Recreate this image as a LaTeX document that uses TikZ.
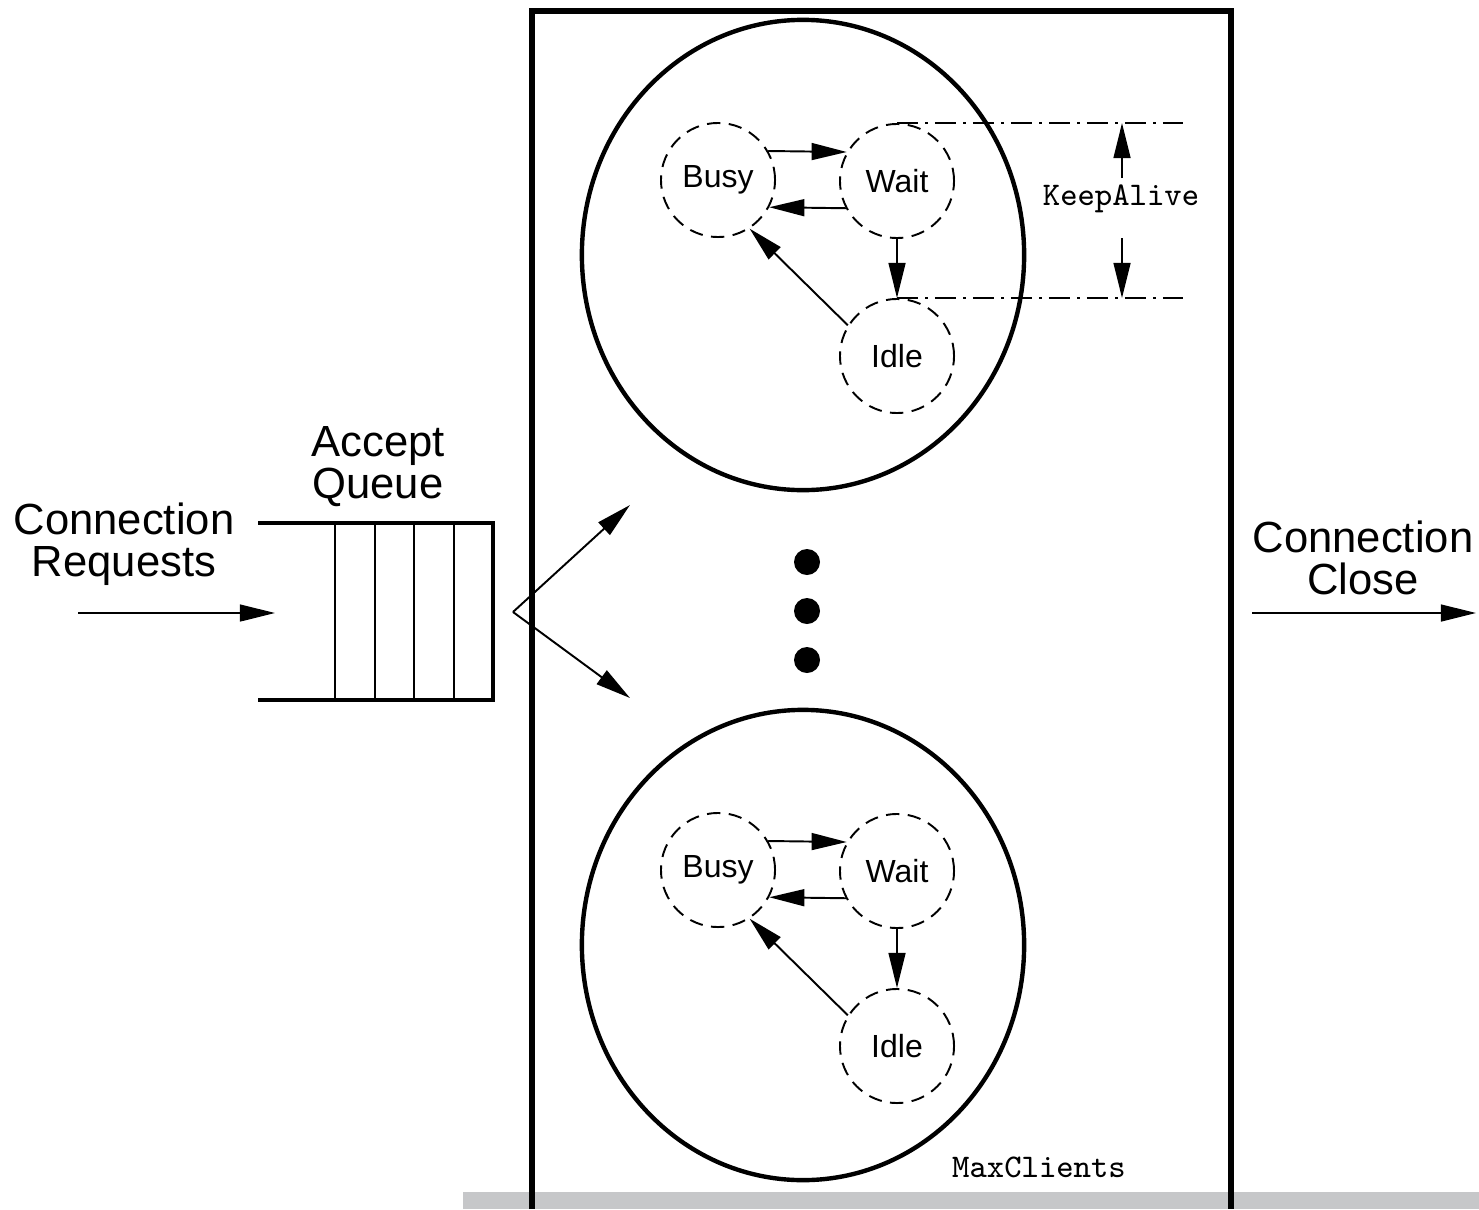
\documentclass[tikz,border=0pt]{standalone}
\usepackage{fontspec}
\setmainfont{Liberation Sans}
\usetikzlibrary{arrows.meta}

\begin{document}
\begin{tikzpicture}
  [x=0.01cm, y=-0.01cm,
   state/.style={circle, draw, dashed, dash pattern=on 3.8pt off 2.4pt,
                 line width=0.55pt, minimum size=1.14cm, inner sep=0,
                 font=\fontsize{9.1}{11}\selectfont},
   arr/.style={-{Triangle[length=10pt,width=4.8pt]}, line width=0.55pt},
   heavy/.style={line width=1.25pt},
   biglabel/.style={align=center, inner sep=0, font=\fontsize{12.4}{12}\selectfont},
   dimline/.style={line width=0.55pt, dash pattern=on 6pt off 2pt on 0.8pt off 2pt},
   dot/.style={circle, fill, minimum size=0.26cm, inner sep=0}]

  \useasboundingbox (0,0) rectangle (1479,1209);

  % strip along the bottom edge
  \fill[fill={rgb,255:red,198;green,199;blue,201}] (463,1192) rectangle (1479,1209);

  % server box
  \draw[line width=1.6pt] (532,1209) -- (532,11) -- (1231,11) -- (1231,1209);
  \node[font=\ttfamily\fontsize{9.4}{11}\selectfont] (maxcl) at (1039,1167) {MaxClients};

  % accept queue
  \draw[line width=1.05pt] (258,523) -- (493,523) -- (493,700) -- (258,700);
  \foreach \qx in {335,375,414,454}
    \draw[line width=0.55pt] (\qx,523) -- (\qx,700);
  \node[biglabel] (queue) at (378,467) {Accept\\Queue};

  % incoming and outgoing connections
  \node[biglabel] (req) at (124,544) {Connection\\Requests};
  \coordinate (reqa) at (78,613);
  \coordinate (reqb) at (275,613);
  \draw[arr] (reqa) -- (reqb);

  \node[biglabel] (close) at (1363,558) {Connection\\Close};
  \coordinate (closea) at (1252,613);
  \coordinate (closeb) at (1476,613);
  \draw[arr] (closea) -- (closeb);

  % dispatch to the processes
  \coordinate (fork) at (513,612);
  \coordinate (toup) at (630,505);
  \coordinate (todn) at (630,698);
  \draw[arr] (fork) -- (toup);
  \draw[arr] (fork) -- (todn);

  % more processes
  \node[dot] (d1) at (807,562) {};
  \node[dot] (d2) at (807,611) {};
  \node[dot] (d3) at (807,660) {};

  % one process each: Busy / Wait / Idle
  \foreach \k/\dy in {t/0, b/690} {
    \begin{scope}[yshift=-\dy*0.01cm]
      \draw[heavy] (803,255) ellipse [x radius=2.21cm, y radius=2.35cm];
      \node[state] (busy\k) at (718,180) {Busy};
      \node[state] (wait\k) at (897,181) {Wait};
      \node[state] (idle\k) at (897,356) {Idle};
      \draw[arr] (busy\k.30) -- (wait\k.150);
      \draw[arr] (wait\k.208) -- (busy\k.332);
      \draw[arr] (wait\k.south) -- (idle\k.north);
      \draw[arr] (idle\k.148) -- (busy\k.303);
    \end{scope}
  }

  % KeepAlive span
  \coordinate (kaend) at (1183,0);
  \draw[dimline] (waitt.north) -- (waitt.north -| kaend);
  \draw[dimline] (idlet.north) -- (idlet.north -| kaend);
  \node[font=\ttfamily\fontsize{9.4}{11}\selectfont] (ka) at (1121,199) {KeepAlive};
  \coordinate (kaup) at (1122,178);
  \coordinate (kadn) at (1122,238);
  \draw[arr] (kaup) -- (kaup |- waitt.north);
  \draw[arr] (kadn) -- (kadn |- idlet.north);

\end{tikzpicture}
\end{document}
